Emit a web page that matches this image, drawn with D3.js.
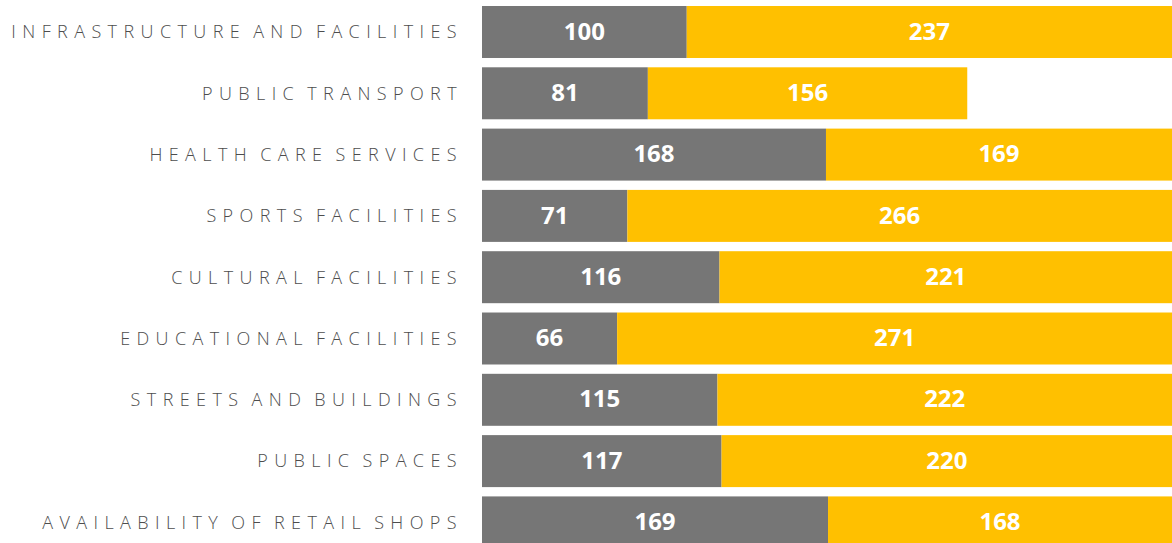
<!DOCTYPE html>
<html>
<head>
<meta charset="utf-8">
<script src="https://cdn.jsdelivr.net/npm/d3@7"></script>
<style>
  html, body { margin: 0; padding: 0; background: #ffffff; }
  svg { display: block; }
</style>
</head>
<body>
<svg id="chart" width="1172" height="543"></svg>
<script>
// Satisfaction survey: answers per service area, split in two groups
const categories = [
  "INFRASTRUCTURE AND FACILITIES",
  "PUBLIC TRANSPORT",
  "HEALTH CARE SERVICES",
  "SPORTS FACILITIES",
  "CULTURAL FACILITIES",
  "EDUCATIONAL FACILITIES",
  "STREETS AND BUILDINGS",
  "PUBLIC SPACES",
  "AVAILABILITY OF RETAIL SHOPS"
];
const greyValues   = [100, 81, 168, 71, 116, 66, 115, 117, 169];
const yellowValues = [237, 156, 169, 266, 221, 271, 222, 220, 168];
const scaleMax = 337;

const svg = d3.select("#chart");

const x = d3.scaleLinear().domain([0, scaleMax]).range([482, 1172]);
const y = d3.scaleBand().domain(categories).range([6, 548.4]).paddingInner(0.152).paddingOuter(0);

const rows = categories.map((c, i) => ({
  cat: c,
  segs: [
    { start: 0, value: greyValues[i], color: "#767676" },
    { start: greyValues[i], value: yellowValues[i], color: "#FFC000" }
  ]
}));

const row = svg.selectAll("g.row").data(rows).join("g").attr("class", "row");

row.selectAll("rect").data(d => d.segs.map(s => ({ ...s, cat: d.cat }))).join("rect")
  .attr("x", d => x(d.start))
  .attr("y", d => y(d.cat))
  .attr("width", d => x(d.start + d.value) - x(d.start))
  .attr("height", y.bandwidth())
  .attr("fill", d => d.color);

row.selectAll("text.val").data(d => d.segs.map(s => ({ ...s, cat: d.cat }))).join("text")
  .attr("class", "val")
  .attr("x", d => (x(d.start) + x(d.start + d.value)) / 2)
  .attr("y", d => y(d.cat) + y.bandwidth() / 2 - 1)
  .attr("dy", "0.36em")
  .attr("text-anchor", "middle")
  .attr("font-family", "'Open Sans', sans-serif")
  .attr("font-weight", 700)
  .attr("font-size", 24)
  .attr("fill", "#ffffff")
  .text(d => d.value);

// category names, right-aligned against the bars
svg.selectAll("text.cat").data(categories).join("text")
  .attr("class", "cat")
  .attr("x", 463)
  .attr("y", d => y(d) + y.bandwidth() / 2)
  .attr("dy", "0.35em")
  .attr("text-anchor", "end")
  .attr("font-family", "'Open Sans', sans-serif")
  .attr("font-weight", 300)
  .attr("font-size", 18)
  .attr("letter-spacing", "6.4px")
  .attr("word-spacing", "-4px")
  .attr("fill", "#4d4d4d")
  .text(d => d);
</script>
</body>
</html>
